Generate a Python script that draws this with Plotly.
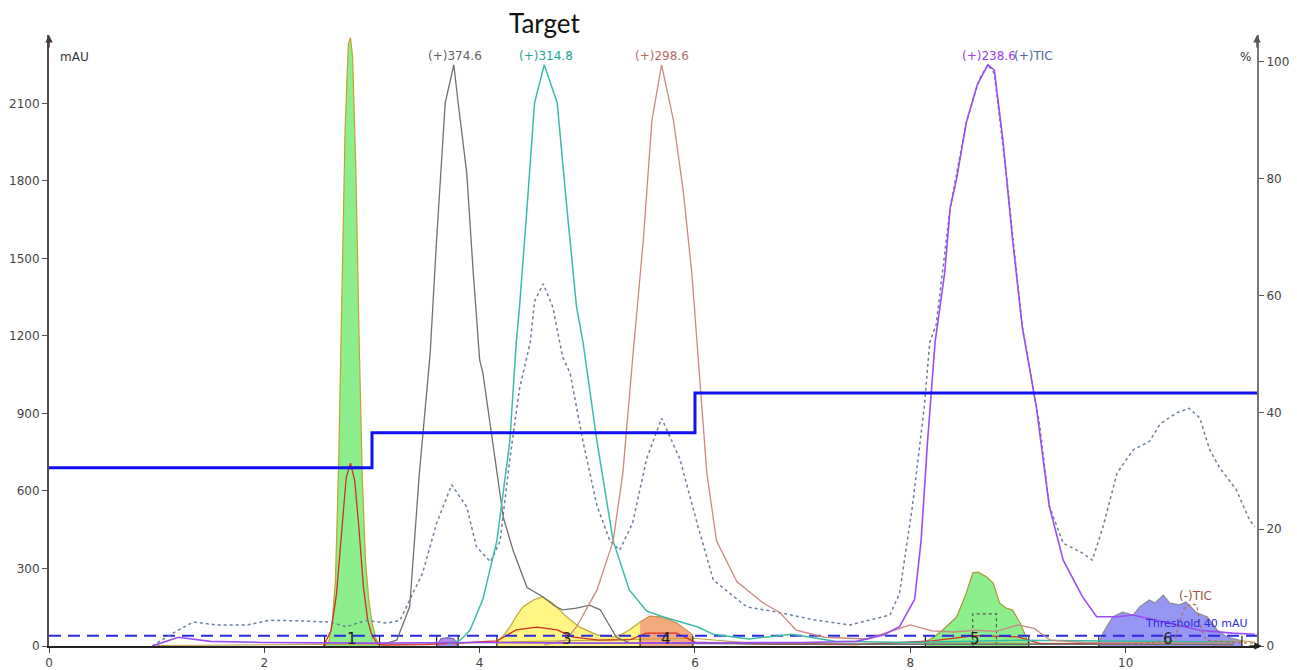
import plotly.graph_objects as go

# ---------------- data ----------------
# MS traces (%), right axis
ms374_x = [3.10, 3.23, 3.35, 3.44, 3.54, 3.60, 3.68, 3.76, 3.80, 3.88, 3.94, 4.00, 4.03, 4.12, 4.22, 4.31, 4.44, 4.59, 4.70, 4.77, 4.90, 5.02, 5.12, 5.27, 5.40, 6.0, 8.0, 11.0]
ms374_y = [0.3, 1.0, 6.7, 29.6, 50, 69.5, 93, 99.5, 93, 81, 64, 49, 46.7, 35, 22, 16.4, 10, 8.4, 6.8, 6.2, 6.5, 7, 6.2, 1.5, 0.5, 0.4, 0.3, 0.3]

ms314_x = [3.70, 3.82, 3.91, 4.03, 4.16, 4.28, 4.34, 4.37, 4.44, 4.51, 4.60, 4.72, 4.81, 4.90, 4.96, 5.09, 5.24, 5.39, 5.55, 5.70, 6.02, 6.17, 6.5, 6.9, 7.3, 8.0, 9.0, 10.0, 11.0]
ms314_y = [0.3, 1, 2.7, 8, 18, 35, 52, 58, 75, 93, 99.5, 93, 75, 58, 52, 35, 18, 9.6, 6, 5, 3.3, 2, 1.2, 2.0, 0.8, 0.6, 1.0, 0.8, 0.7]

ms298_x = [4.6, 4.8, 4.9, 5.09, 5.24, 5.33, 5.42, 5.52, 5.60, 5.69, 5.80, 5.89, 5.97, 6.03, 6.11, 6.20, 6.39, 6.63, 6.79, 6.94, 7.2, 7.6, 7.9, 8.0, 8.2, 8.4, 8.6, 8.8, 9.0, 9.15, 9.3, 9.6, 10.0, 11.0]
ms298_y = [0.2, 1, 3.3, 9.6, 18, 29.6, 49, 69.5, 90, 99.5, 90, 78, 64, 49, 29.6, 18, 11, 7.4, 5.7, 2.7, 1.5, 1.2, 3.0, 3.6, 2.6, 2.4, 2.7, 2.5, 3.6, 3.0, 1.0, 0.6, 0.5, 0.5]

ms238_x = [0.96, 1.2, 1.5, 2.0, 3.0, 4.0, 5.0, 6.0, 7.0, 7.5, 7.75, 7.9, 8.04, 8.10, 8.16, 8.23, 8.32, 8.37, 8.43, 8.52, 8.62, 8.72, 8.78, 8.86, 8.95, 9.04, 9.17, 9.29, 9.42, 9.60, 9.73, 9.92, 10.07, 10.38, 10.69, 10.99, 11.2]
ms238_y = [0, 1.5, 0.8, 0.6, 0.5, 0.6, 0.5, 0.5, 0.6, 0.8, 1.9, 3.3, 8, 18, 35, 52, 64, 75, 80, 89.6, 96, 99.5, 98.6, 86.6, 69.5, 54.6, 41, 24, 14.7, 8.4, 5, 5, 5.3, 4, 2.7, 2.2, 2]

tic_x = [0.96, 1.15, 1.34, 1.56, 1.84, 2.05, 2.33, 2.61, 2.76, 2.95, 3.14, 3.26, 3.32, 3.47, 3.60, 3.74, 3.88, 3.97, 4.10, 4.19, 4.28, 4.37, 4.47, 4.51, 4.59, 4.68, 4.77, 4.84, 4.96, 5.09, 5.21, 5.30, 5.42, 5.55, 5.69, 5.86, 6.02, 6.17, 6.48, 6.79, 7.1, 7.44, 7.81, 7.90, 8.02, 8.13, 8.18, 8.24, 8.37, 8.52, 8.64, 8.72, 8.78, 8.89, 9.04, 9.20, 9.29, 9.42, 9.60, 9.69, 9.79, 9.92, 10.07, 10.22, 10.32, 10.47, 10.59, 10.69, 10.78, 10.87, 11.03, 11.15, 11.20]
tic_y = [0, 2.2, 4.1, 3.6, 3.6, 4.4, 4.3, 4.1, 3.3, 4.4, 3.9, 4.4, 6.7, 12.5, 21, 27.6, 23.8, 17, 14.4, 18, 32, 44, 52, 59, 62, 58, 49.5, 46.7, 35, 24, 18, 16.4, 21, 32, 39, 32, 21, 11.3, 6.7, 5.7, 4.5, 3.6, 5.3, 9, 24, 41, 52, 55, 75, 89.6, 97, 99.5, 98, 81, 54.6, 38, 24, 17.6, 15.9, 14.7, 20.4, 29.6, 33.6, 35, 38, 39.9, 40.7, 39, 33.6, 30.6, 26.7, 21.6, 20.4]

neg_tic_x = [9.8, 10.2, 10.45, 10.52, 10.55, 10.62, 10.66, 10.70, 10.75, 11.0, 11.2]
neg_tic_y = [0.3, 0.5, 1.0, 5.0, 6.7, 7.2, 7.0, 3.0, 1.0, 0.6, 0.5]

# gradient (%B), right axis
grad_x = [0, 3.0, 6.0, 11.22]
grad_y = [30.5, 36.5, 43.3, 43.3]

# UV traces (mAU), left axis
red_x = [2.55, 2.62, 2.67, 2.72, 2.76, 2.80, 2.84, 2.88, 2.92, 2.96, 3.00, 3.05, 3.10, 3.5, 4.16, 4.34, 4.53, 4.72, 4.86, 5.1, 5.4, 5.55, 5.83, 6.0, 6.5, 7.5, 8.2, 8.6, 9.0, 9.2, 10.0, 11.0]
red_y = [0, 60, 200, 450, 650, 708, 640, 450, 230, 100, 40, 10, 3, 5, 20, 62, 73, 62, 35, 23, 25, 50, 50, 15, 8, 5, 20, 40, 35, 10, 8, 5]

uv_base_x = [1.0, 1.5, 2.0, 2.56, 3.07, 3.6, 4.16, 5.98, 6.5, 7.5, 8.14, 9.10, 9.75, 11.08, 11.2]
uv_base_y = [2, 4, 5, 6, 5, 8, 15, 30, 12, 8, 12, 10, 10, 20, 15]

frac1_x = [2.56, 2.60, 2.63, 2.66, 2.69, 2.72, 2.75, 2.78, 2.80, 2.82, 2.85, 2.88, 2.91, 2.94, 2.97, 3.00, 3.04, 3.07]
frac1_y = [0, 20, 90, 250, 700, 1400, 2000, 2330, 2355, 2280, 1850, 1200, 650, 330, 180, 90, 25, 0]
frac2_x = [3.60, 3.64, 3.70, 3.76, 3.80]
frac2_y = [0, 28, 32, 28, 0]
frac3_x = [4.16, 4.22, 4.28, 4.34, 4.40, 4.50, 4.58, 4.68, 4.81, 4.93, 5.09, 5.24, 5.32, 5.39, 5.49]
frac3_y = [15, 40, 73, 115, 151, 178, 190, 166, 112, 73, 43, 35, 45, 62, 93]
frac4_x = [5.49, 5.58, 5.70, 5.83, 5.98]
frac4_y = [93, 116, 112, 89, 43]
frac5_x = [8.14, 8.22, 8.30, 8.43, 8.52, 8.58, 8.63, 8.71, 8.77, 8.83, 8.89, 8.95, 9.02, 9.08, 9.10]
frac5_y = [15, 35, 62, 112, 205, 283, 286, 267, 244, 166, 147, 139, 89, 31, 10]
frac6_x = [9.75, 9.79, 9.88, 9.97, 10.07, 10.13, 10.22, 10.27, 10.35, 10.41, 10.50, 10.56, 10.66, 10.72, 10.76, 10.85, 10.94, 11.08]
frac6_y = [10, 50, 112, 131, 120, 151, 178, 166, 197, 166, 159, 170, 128, 120, 112, 62, 35, 20]

box5_x = [8.58, 8.58, 8.80, 8.80]
box5_y = [0, 124, 124, 0]

frac_bounds = [2.56, 3.07, 3.60, 3.80, 4.16, 5.49, 5.98, 8.14, 9.10, 9.75, 11.08]
frac_tick_h = 40
frac_labels = ["1", "3", "4", "5", "6"]
frac_label_x = [2.81, 4.81, 5.73, 8.60, 10.39]
frac_label_y = 27

threshold = 40
x_max = 11.22
y_max = 2365
y2_max = 104.6

x_ticks = [0, 2, 4, 6, 8, 10]
y_ticks = [0, 300, 600, 900, 1200, 1500, 1800, 2100]
y2_ticks = [0, 20, 40, 60, 80, 100]

peak_labels = ["(+)374.6", "(+)314.8", "(+)298.6", "(+)238.6", "(+)TIC"]
peak_label_x = [3.77, 4.62, 5.69, 8.73, 9.14]
peak_label_colors = ["#606060", "#1aa595", "#b86a66", "#9a3cf0", "#4a6aa0"]

# ---------------- figure ----------------
FONT = "DejaVu Sans"
fig = go.Figure()

fill_specs = [
    (frac1_x, frac1_y, "rgba(140,238,140,1)", "rgb(200,160,50)"),
    (frac2_x, frac2_y, "rgba(150,110,230,0.8)", "rgb(120,90,200)"),
    (frac3_x, frac3_y, "rgba(255,245,130,1)", "rgb(190,170,60)"),
    (frac4_x, frac4_y, "rgba(245,170,125,1)", "rgb(200,140,80)"),
    (frac5_x, frac5_y, "rgba(140,238,140,1)", "rgb(170,150,60)"),
    (frac6_x, frac6_y, "rgba(150,150,245,1)", "rgb(140,140,150)"),
]
for fx, fy, fc, lc in fill_specs:
    fig.add_trace(go.Scatter(x=fx, y=fy, mode="lines", fill="tozeroy", fillcolor=fc,
                             line=dict(color=lc, width=1.2), yaxis="y", hoverinfo="skip"))

fig.add_trace(go.Scatter(x=uv_base_x, y=uv_base_y, mode="lines",
                         line=dict(color="rgb(190,160,60)", width=1), yaxis="y"))
fig.add_trace(go.Scatter(x=box5_x, y=box5_y, mode="lines",
                         line=dict(color="#555555", width=1.2, dash="dot"), yaxis="y"))

# fraction boundary ticks
bx, by = [], []
for b in frac_bounds:
    bx += [b, b, None]
    by += [0, frac_tick_h, None]
fig.add_trace(go.Scatter(x=bx, y=by, mode="lines", line=dict(color="#222222", width=1.2), yaxis="y"))

fig.add_trace(go.Scatter(x=red_x, y=red_y, mode="lines", line=dict(color="rgb(215,45,35)", width=1.3), yaxis="y"))

# MS traces on right axis
fig.add_trace(go.Scatter(x=tic_x, y=tic_y, mode="lines", line=dict(color="#6a7fa0", width=1.5, dash="dot"), yaxis="y2"))
fig.add_trace(go.Scatter(x=ms374_x, y=ms374_y, mode="lines", line=dict(color="#707070", width=1.3), yaxis="y2"))
fig.add_trace(go.Scatter(x=ms314_x, y=ms314_y, mode="lines", line=dict(color="#3bbcab", width=1.5), yaxis="y2"))
fig.add_trace(go.Scatter(x=ms298_x, y=ms298_y, mode="lines", line=dict(color="#c98a80", width=1.3), yaxis="y2"))
fig.add_trace(go.Scatter(x=ms238_x, y=ms238_y, mode="lines", line=dict(color="#9b4cf2", width=1.6), yaxis="y2"))
fig.add_trace(go.Scatter(x=neg_tic_x, y=neg_tic_y, mode="lines", line=dict(color="#b06a50", width=1.2, dash="dot"), yaxis="y2"))

# gradient step
fig.add_trace(go.Scatter(x=grad_x, y=grad_y, mode="lines", line=dict(color="#1010f0", width=3, shape="hv"), yaxis="y2"))

# threshold
fig.add_trace(go.Scatter(x=[0, x_max], y=[threshold, threshold], mode="lines",
                         line=dict(color="#2a2ae0", width=2, dash="12px,7px"), yaxis="y"))

annotations = []
for t, x, c in zip(peak_labels, peak_label_x, peak_label_colors):
    annotations.append(dict(x=x, y=101.0, xref="x", yref="y2", text=t, showarrow=False,
                            font=dict(family=FONT, size=12, color=c), yanchor="middle"))
for t, x in zip(frac_labels, frac_label_x):
    annotations.append(dict(x=x, y=frac_label_y, xref="x", yref="y", text=t, showarrow=False,
                            font=dict(family=FONT, size=15, color="#222222"), yanchor="middle"))
annotations += [
    dict(x=10.16, y=88, xref="x", yref="y", text="Threshold 40 mAU", showarrow=False, xanchor="left",
         yanchor="middle", font=dict(family=FONT, size=11, color="#2a2ae0")),
    dict(x=10.65, y=194, xref="x", yref="y", text="(-)TIC", showarrow=False,
         font=dict(family=FONT, size=12, color="#a05545")),
    dict(x=0.41, y=1.019, xref="paper", yref="paper", text="Target", showarrow=False,
         font=dict(family="Lato", size=26, color="#111111"), yanchor="middle"),
    dict(x=0.0075, y=0.979, xref="paper", yref="paper", text="mAU", showarrow=False, xanchor="left",
         font=dict(family=FONT, size=12, color="#333333")),
    dict(x=0.9965, y=0.979, xref="paper", yref="paper", text="%", showarrow=False, xanchor="right",
         font=dict(family=FONT, size=12, color="#333333")),
    # axis arrows
    dict(x=0, y=1.0, xref="paper", yref="paper", text="", showarrow=True, ax=0, ay=14,
         arrowhead=2, arrowsize=1, arrowwidth=1.5, arrowcolor="#4a3c3c"),
    dict(x=1, y=1.0, xref="paper", yref="paper", text="", showarrow=True, ax=0, ay=14,
         arrowhead=2, arrowsize=1, arrowwidth=1.5, arrowcolor="#555555"),
    dict(x=1.004, y=0, xref="paper", yref="paper", text="", showarrow=True, ax=-14, ay=0,
         arrowhead=2, arrowsize=1, arrowwidth=1.5, arrowcolor="#222222"),
]

# page body has an 8px default margin, so the figure is offset by 8px
fig.update_layout(
    width=1289, height=662,
    margin=dict(l=41, r=40, t=27, b=24),
    paper_bgcolor="white", plot_bgcolor="white",
    showlegend=False,
    font=dict(family=FONT, size=12, color="#444444"),
    xaxis=dict(range=[0, x_max], tickvals=x_ticks, ticktext=[str(v) for v in x_ticks], automargin=False,
               showgrid=False, zeroline=False, showline=True, linecolor="#222222", linewidth=2,
               ticks="outside", ticklen=5, tickcolor="#444444", tickfont=dict(size=12, color="#444444")),
    yaxis=dict(range=[0, y_max], tickvals=y_ticks, showgrid=False, zeroline=False, showline=True,
               automargin=False,
               linecolor="#5a4a4a", linewidth=2, ticks="outside", ticklen=5, tickcolor="#555555",
               tickfont=dict(size=12, color="#444444")),
    yaxis2=dict(range=[0, y2_max], tickvals=y2_ticks, overlaying="y", side="right", anchor="x",
                automargin=False,
                showgrid=False, zeroline=False, showline=True, linecolor="#777777", linewidth=2,
                ticks="outside", ticklen=5, tickcolor="#555555", tickfont=dict(size=12, color="#444444")),
    annotations=annotations,
)

fig.write_html("out.html")
